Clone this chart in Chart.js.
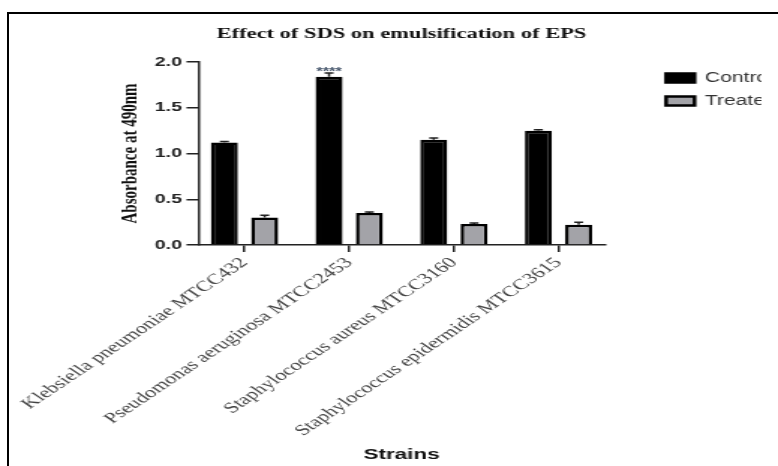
<!DOCTYPE html>
<html>
<head>
<meta charset="utf-8">
<script src="https://cdn.jsdelivr.net/npm/chart.js@4/dist/chart.umd.min.js"></script>
<style>
  html, body { margin: 0; padding: 0; background: #fff; overflow: hidden; }
  #frame { position: absolute; left: 7px; top: 12px; width: 790px; height: 470px;
           border-top: 2px solid #000; border-left: 2px solid #000; }
  #wrap { position: absolute; left: 0; top: 0; width: 519px; height: 466px;
          transform: scaleX(1.499); transform-origin: 0 0; }
</style>
</head>
<body>
<div id="frame"></div>
<div id="wrap"><canvas id="emulsification" width="519" height="466"></canvas></div>
<script>
"use strict";
// ========== DATA ========== //
const strains = [
  "Klebsiella pneumoniae MTCC432",
  "Pseudomonas aeruginosa MTCC2453",
  "Staphylococcus aureus MTCC3160",
  "Staphylococcus epidermidis MTCC3615"
];
const controlMeans = [1.12, 1.84, 1.15, 1.25];
const controlSD = [0.01, 0.04, 0.02, 0.01];
const treatedMeans = [0.30, 0.35, 0.23, 0.22];
const treatedSD = [0.025, 0.01, 0.01, 0.03];
const controlSig = ["", "****", "", ""];
const yTicks = [0, 0.5, 1.0, 1.5, 2.0];

// error bars (upper only) + significance stars, drawn through the scales
const errorBars = {
  id: "errorBars",
  afterDatasetsDraw(chart) {
    const ctx = chart.ctx;
    const y = chart.scales.y;
    const sets = [[controlMeans, controlSD, controlSig], [treatedMeans, treatedSD, null]];
    sets.forEach(([means, sds, sig], d) => {
      const meta = chart.getDatasetMeta(d);
      meta.data.forEach((bar, i) => {
        const top = y.getPixelForValue(means[i] + sds[i]);
        ctx.save();
        ctx.strokeStyle = "#222";
        ctx.lineWidth = 1.5;
        ctx.beginPath();
        ctx.moveTo(bar.x, bar.y);
        ctx.lineTo(bar.x, top);
        ctx.moveTo(bar.x - 3, top);
        ctx.lineTo(bar.x + 3, top);
        ctx.stroke();
        if (sig && sig[i]) {
          ctx.fillStyle = "#44546a";
          ctx.font = "bold 11px 'Liberation Sans', Arial, sans-serif";
          ctx.textAlign = "center";
          ctx.textBaseline = "alphabetic";
          ctx.fillText(sig[i], bar.x, top + 2);
        }
        ctx.restore();
      });
    });
  }
};

const chart = new Chart(document.querySelector("#emulsification"), {
  type: "bar",
  data: {
    datasets: [{
      label: "Control",
      data: controlMeans.map((v, i) => ({ x: i, y: v })),
      backgroundColor: "#000",
      borderColor: "#000",
      borderWidth: 2.5
    }, {
      label: "Treated",
      data: treatedMeans.map((v, i) => ({ x: i, y: v })),
      backgroundColor: "#a3a3a8",
      borderColor: "#000",
      borderWidth: 2.5
    }]
  },
  options: {
    responsive: false,
    animation: false,
    categoryPercentage: 0.77,
    barPercentage: 0.67,
    layout: { padding: { left: 72, right: 11, top: 0, bottom: 2 } },
    plugins: {
      title: {
        display: true,
        fullSize: false,
        text: "Effect of SDS on emulsification of EPS",
        color: "#111",
        font: { family: "'Liberation Serif', 'Times New Roman', serif", size: 15, weight: "bold" },
        padding: { top: 25, bottom: 19 }
      },
      legend: {
        position: "right",
        align: "start",
        fullSize: false,
        labels: {
          boxWidth: 19,
          boxHeight: 9,
          padding: 9,
          color: "#333",
          font: { family: "'Liberation Sans', Arial, sans-serif", size: 14 }
        }
      },
      tooltip: { enabled: false }
    },
    scales: {
      x: {
        type: "linear",
        min: -0.44,
        max: 3.44,
        offset: false,
        afterBuildTicks: (s) => { s.ticks = strains.map((_, i) => ({ value: i })); },
        afterFit: (s) => { s.height = 219; },
        ticks: {
          autoSkip: false,
          minRotation: 45,
          maxRotation: 45,
          padding: 2,
          color: "#444",
          font: { family: "'Liberation Serif', 'Times New Roman', serif", size: 15 },
          callback: (v) => strains[v]
        },
        grid: { offset: false, drawOnChartArea: false, drawTicks: true, tickLength: 7, color: "#222", lineWidth: 1.5 },
        border: { color: "#222", width: 1.5 },
        title: {
          display: true,
          text: "Strains",
          color: "#111",
          font: { family: "'Liberation Sans', Arial, sans-serif", size: 15, weight: "bold" },
          padding: { top: 4, bottom: 0 }
        }
      },
      y: {
        min: 0,
        max: 2,
        afterFit: (s) => { s.width = 58.7; },
        afterBuildTicks: (s) => { s.ticks = yTicks.map((v) => ({ value: v })); },
        ticks: {
          padding: 3,
          color: "#222",
          font: { family: "'Liberation Sans', Arial, sans-serif", size: 13, weight: "bold" },
          callback: (v) => v.toFixed(1)
        },
        grid: { drawOnChartArea: false, drawTicks: true, tickLength: 8, color: "#222", lineWidth: 1.5 },
        border: { color: "#222", width: 1.5 },
        title: {
          display: true,
          text: "Absorbance at 490nm",
          color: "#111",
          font: { family: "'Liberation Serif', 'Times New Roman', serif", size: 15, weight: "bold" },
          padding: { top: 4, bottom: 0 }
        }
      },
      // empty right-hand scale keeps a gap between the plot and the legend
      gap: {
        type: "linear",
        position: "right",
        display: true,
        afterFit: (s) => { s.width = 32; },
        ticks: { display: false },
        grid: { display: false },
        border: { display: false }
      }
    }
  },
  plugins: [errorBars]
});
</script>
</body>
</html>
